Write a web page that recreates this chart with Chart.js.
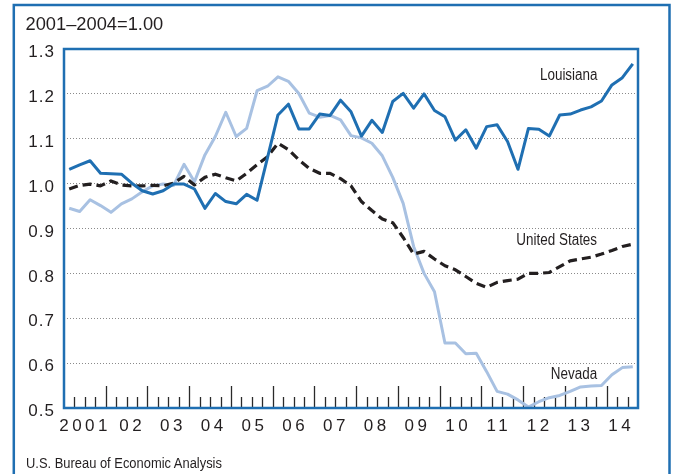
<!DOCTYPE html>
<html><head><meta charset="utf-8">
<script src="https://cdn.jsdelivr.net/npm/chart.js@4.4.1/dist/chart.umd.min.js"></script>
<style>
html,body{margin:0;padding:0;background:#fff;}
#wrap{position:relative;width:675px;height:474px;overflow:hidden;background:#fff;}
canvas{position:absolute;left:0;top:0;}
.t{position:absolute;white-space:nowrap;color:#231f20;}
#title{left:25.5px;top:14.8px;font:18.3px/18.3px "Liberation Sans",Arial,sans-serif;}
.sl{right:78px;font:16px/16px "Liberation Sans",Arial,sans-serif;transform:scaleX(0.84);transform-origin:right center;}
#src{left:26px;top:455px;font:15.5px/15.5px "Liberation Sans",Arial,sans-serif;transform:scaleX(0.833);transform-origin:left center;}
</style></head><body>
<div id="wrap">
<canvas id="c" width="675" height="474"></canvas>
<div class="t" id="title">2001–2004=1.00</div>
<div class="t sl" style="top:67.2px">Louisiana</div>
<div class="t sl" style="top:232.2px">United States</div>
<div class="t sl" style="top:365.7px">Nevada</div>
<div class="t" id="src">U.S. Bureau of Economic Analysis</div>
</div>
<script>
// Tick labels (years) and quarterly categories 2001Q1 .. 2014Q3
const yearLabels = ['2001','02','03','04','05','06','07','08','09','10','11','12','13','14'];
const quarters = [];
for (let y = 2001; y <= 2014; y++) for (let q = 1; q <= 4; q++) { if (y === 2014 && q > 3) break; quarters.push(y + 'Q' + q); }

const louisiana = [1.032,1.042,1.051,1.023,1.022,1.021,1.001,0.984,0.977,0.984,
  0.999,0.999,0.988,0.945,0.978,0.960,0.955,0.976,0.963,1.058,
  1.153,1.177,1.122,1.122,1.155,1.152,1.186,1.160,1.106,1.141,
  1.114,1.183,1.201,1.168,1.200,1.163,1.149,1.097,1.120,1.079,
  1.127,1.131,1.094,1.032,1.123,1.121,1.106,1.153,1.155,1.164,
  1.171,1.184,1.220,1.236,1.267];
const unitedStates = [0.988,0.996,0.999,0.995,1.006,0.997,0.995,0.995,0.996,0.995,
  1.001,1.016,0.997,1.014,1.021,1.013,1.006,1.023,1.042,1.060,
  1.090,1.076,1.053,1.034,1.023,1.023,1.011,0.995,0.960,0.940,
  0.921,0.913,0.880,0.843,0.849,0.832,0.817,0.808,0.793,0.778,
  0.769,0.780,0.784,0.787,0.800,0.800,0.802,0.815,0.828,0.832,
  0.836,0.843,0.851,0.860,0.865];
const nevada = [0.945,0.938,0.964,0.951,0.936,0.955,0.966,0.982,0.995,0.999,
  0.996,1.043,1.004,1.064,1.105,1.159,1.105,1.123,1.207,1.217,
  1.238,1.228,1.201,1.157,1.148,1.152,1.142,1.107,1.102,1.090,
  1.062,1.014,0.956,0.860,0.800,0.759,0.645,0.645,0.621,0.622,
  0.581,0.537,0.531,0.518,0.502,0.514,0.523,0.528,0.537,0.547,
  0.549,0.550,0.574,0.590,0.592];

const FRAME = '#1f6fb2';
const LA_COLOR = '#1f6fb2';
const NV_COLOR = '#a8c1e2';
const US_COLOR = '#231f20';
const TXT = '#231f20';

const spacingPlugin = {
  id: 'spacing',
  beforeDraw(chart) {
    [['x', '3.5px'], ['y', '1px']].forEach(([id, ls]) => {
      const s = chart.scales[id];
      if (!s || s._lsPatched) return;
      const orig = s.drawLabels.bind(s);
      s.drawLabels = function (area) { const c = this.ctx; c.save(); c.letterSpacing = ls; orig(area); c.restore(); };
      s._lsPatched = true;
    });
  }
};

const quarterTicks = {
  id: 'quarterTicks',
  beforeDatasetsDraw(chart) {
    const { ctx, chartArea, scales: { x } } = chart;
    ctx.save();
    ctx.strokeStyle = '#2a2a2a';
    ctx.lineWidth = 1.3;
    for (let k = 1; k < quarters.length; k++) {
      const px = Math.round(x.getPixelForValue(k - 0.5)) + 0.5;
      const len = (k % 4 === 0) ? 22 : 11;
      ctx.beginPath();
      ctx.moveTo(px, chartArea.bottom);
      ctx.lineTo(px, chartArea.bottom - len);
      ctx.stroke();
    }
    ctx.restore();
  }
};

const frames = {
  id: 'frames',
  afterDraw(chart) {
    const { ctx, chartArea: a } = chart;
    ctx.save();
    ctx.strokeStyle = FRAME;
    ctx.lineWidth = 2.5;
    ctx.strokeRect(a.left, a.top, a.right - a.left, a.bottom - a.top);
    ctx.beginPath();
    ctx.moveTo(13.8, 480); ctx.lineTo(13.8, 5); ctx.lineTo(669.5, 5); ctx.lineTo(669.5, 480);
    ctx.stroke();
    ctx.restore();
  }
};

new Chart(document.getElementById('c'), {
  type: 'line',
  data: {
    labels: quarters,
    datasets: [
      { label: 'Louisiana', data: louisiana, borderColor: LA_COLOR, borderWidth: 3, order: 0 },
      { label: 'United States', data: unitedStates, borderColor: US_COLOR, borderWidth: 3.2, borderDash: [9, 5], borderCapStyle: 'butt', order: 1 },
      { label: 'Nevada', data: nevada, borderColor: NV_COLOR, borderWidth: 3, order: 2 }
    ]
  },
  options: {
    responsive: false,
    animation: false,
    events: [],
    elements: { point: { radius: 0 }, line: { tension: 0, borderJoinStyle: 'round', fill: false } },
    layout: { padding: { left: 0, top: 49, right: 37, bottom: 0 } },
    plugins: { legend: { display: false }, tooltip: { enabled: false }, title: { display: false } },
    scales: {
      x: {
        type: 'category',
        offset: true,
        grid: { display: false, drawTicks: false },
        border: { display: false },
        afterFit(s) { s.height = 66; },
        afterBuildTicks(s) {
          s.ticks = yearLabels.map((lab, j) => ({ value: j === 0 ? 1.52 : 2.125 + 3.905 * j, label: lab }));
        },
        ticks: {
          autoSkip: false, maxRotation: 0, minRotation: 0, padding: 8,
          color: TXT, font: { family: '"Liberation Sans", Arial, sans-serif', size: 17 },
          callback(v, i) { return yearLabels[i]; }
        }
      },
      y: {
        min: 0.5, max: 1.3,
        afterFit(s) { s.width = 64; },
        grid: {
          drawTicks: false, lineWidth: 1,
          color(c) { const v = c.tick ? c.tick.value : 0; return (Math.abs(v - 1.3) < 1e-6 || Math.abs(v - 0.5) < 1e-6) ? 'rgba(0,0,0,0)' : '#8a8a8a'; }
        },
        border: { display: false, dash: [1, 2] },
        ticks: {
          stepSize: 0.1, padding: 9, labelOffset: 3.5, color: TXT,
          font: { family: '"Liberation Sans", Arial, sans-serif', size: 17 },
          callback(v) { return Number(v).toFixed(1); }
        }
      }
    }
  },
  plugins: [spacingPlugin, quarterTicks, frames]
});
</script>
</body></html>
